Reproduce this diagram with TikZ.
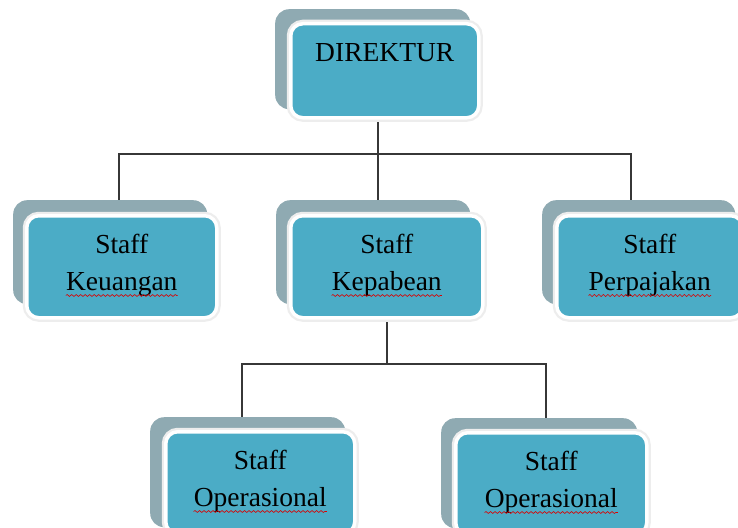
\documentclass[tikz,border=0pt]{standalone}
\usepackage{fontspec}
\setmainfont{Liberation Serif}
\usetikzlibrary{decorations.pathmorphing,backgrounds}
\definecolor{boxblue}{RGB}{75,172,198}
\definecolor{boxgray}{RGB}{143,170,178}
\definecolor{conncol}{RGB}{55,55,55}
\tikzset{
  backbox/.style={fill=boxgray, draw=none, rounded corners=14pt, inner sep=0pt, anchor=north west},
  frontbox/.style={fill=boxblue, draw=white, line width=3.5pt, rounded corners=12pt, inner sep=0pt,
    anchor=north west, preaction={draw=black!7, line width=8pt}},
  conn/.style={draw=conncol, line width=1.2pt},
  lbl/.style={font=\fontsize{27.5}{33}\selectfont, inner sep=0pt, anchor=base},
  wavy/.style={draw=red!85!black, line width=0.6pt, decorate, decoration={snake, amplitude=1pt, segment length=4.5pt}},
}
\begin{document}
\begin{tikzpicture}[x=1pt,y=-1pt]
\begin{scope}
\clip (0,0) rectangle (738,527);
% DIREKTUR
\node[backbox, minimum width=195pt, minimum height=100pt] (dirB) at (275,9) {};
\node[frontbox, minimum width=188pt, minimum height=94pt] (dir) at (289,22) {};
% level 2
\node[backbox, minimum width=194pt, minimum height=104pt] (keuB) at (13,200) {};
\node[frontbox, minimum width=190pt, minimum height=102pt] (keu) at (25,214) {};
\node[backbox, minimum width=194pt, minimum height=104pt] (kepB) at (276,200) {};
\node[frontbox, minimum width=192pt, minimum height=102pt] (kep) at (289,214) {};
\node[backbox, minimum width=193pt, minimum height=104pt] (pajB) at (542,200) {};
\node[frontbox, minimum width=186pt, minimum height=102pt] (paj) at (555,214) {};
% level 3
\node[backbox, minimum width=195pt, minimum height=110pt] (op1B) at (150,417) {};
\node[frontbox, minimum width=189pt, minimum height=102pt] (op1) at (164,430) {};
\node[backbox, minimum width=196pt, minimum height=110pt] (op2B) at (441,418) {};
\node[frontbox, minimum width=191pt, minimum height=102pt] (op2) at (454,431) {};
\end{scope}
% texts
\node[lbl] (dirT) at ([yshift=-39pt]dir.north) {DIREKTUR};
\node[lbl] (keuT1) at ([yshift=-39pt]keu.north) {Staff};
\node[lbl] (keuT2) at ([yshift=-76pt]keu.north) {Keuangan};
\node[lbl] (kepT1) at ([yshift=-39pt]kep.north) {Staff};
\node[lbl] (kepT2) at ([yshift=-76pt]kep.north) {Kepabean};
\node[lbl] (pajT1) at ([yshift=-39pt]paj.north) {Staff};
\node[lbl] (pajT2) at ([yshift=-76pt]paj.north) {Perpajakan};
\node[lbl] (op1T1) at ([yshift=-39pt]op1.north) {Staff};
\node[lbl] (op1T2) at ([yshift=-76pt]op1.north) {Operasional};
\node[lbl] (op2T1) at ([yshift=-39pt]op2.north) {Staff};
\node[lbl] (op2T2) at ([yshift=-76pt]op2.north) {Operasional};
% spell-check underlines
\foreach \t in {keuT2,kepT2,pajT2,op1T2,op2T2}{
  \draw[wavy] ([yshift=-5.5pt]\t.base west) -- ([yshift=-5.5pt]\t.base east);
}
% connectors
\coordinate (b1) at (378,154);
\coordinate (d1) at (119,154);
\coordinate (d3) at (631,154);
\coordinate (b2) at (387,364);
\coordinate (e1) at (242,364);
\coordinate (e2) at (546,364);
\begin{scope}[on background layer]
\fill[white] (0,0) rectangle (738,527);
\draw[conn] (b1 |- dir.center) -- (b1);
\draw[conn] (d1 |- keuB.north) -- (d1) -- (d3) -- (d3 |- pajB.north);
\draw[conn] (b1) -- (b1 |- kepB.north);
\draw[conn] (b2 |- kep.center) -- (b2);
\draw[conn] (e1 |- op1B.north) -- (e1) -- (e2) -- (e2 |- op2B.north);
\end{scope}
\pgfresetboundingbox
\useasboundingbox (0,0) rectangle (738,527);
\end{tikzpicture}
\end{document}
